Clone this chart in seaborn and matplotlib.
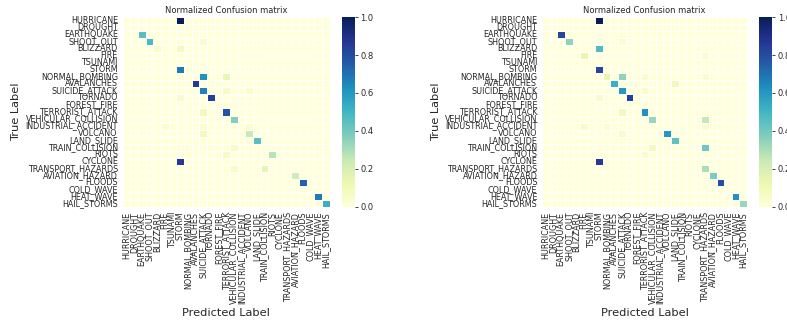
import numpy as np
import pandas as pd
import matplotlib
matplotlib.use("Agg")
import matplotlib.pyplot as plt
import seaborn as sns

classes = ["HURRICANE", "DROUGHT", "EARTHQUAKE", "SHOOT_OUT", "BLIZZARD", "FIRE",
           "TSUNAMI", "STORM", "NORMAL_BOMBING", "AVALANCHES", "SUICIDE_ATTACK",
           "TORNADO", "FOREST_FIRE", "TERRORIST_ATTACK", "VEHICULAR_COLLISION",
           "INDUSTRIAL_ACCIDENT", "VOLCANO", "LAND_SLIDE", "TRAIN_COLLISION", "RIOTS",
           "CYCLONE", "TRANSPORT_HAZARDS", "AVIATION_HAZARD", "FLOODS", "COLD_WAVE",
           "HEAT_WAVE", "HAIL_STORMS"]

# left matrix: non-zero cells (true row, predicted col, value)
left_rows = [0, 2, 3, 3, 4, 4, 7, 8, 8, 9, 10, 10, 10, 11, 11, 13, 13, 14,
             15, 15, 15, 16, 16, 17, 18, 19, 19, 20, 21, 21, 22, 23, 25, 26]
left_cols = [7, 2, 3, 10, 4, 7, 7, 10, 13, 9, 10, 13, 16, 11, 7, 13, 10, 14,
             5, 10, 16, 10, 16, 17, 14, 13, 19, 7, 14, 18, 22, 23, 25, 26]
left_vals = [1.0, 0.45, 0.48, 0.04, 0.05, 0.08, 0.68, 0.62, 0.14, 0.86, 0.66, 0.06, 0.04,
             0.84, 0.05, 0.78, 0.10, 0.37, 0.04, 0.03, 0.04, 0.10, 0.24, 0.45, 0.06,
             0.06, 0.28, 0.86, 0.06, 0.15, 0.22, 0.74, 0.68, 0.52]

# right matrix: non-zero cells (true row, predicted col, value)
right_rows = [0, 2, 3, 3, 4, 5, 5, 7, 8, 8, 8, 8, 9, 9, 10, 10, 11, 11, 13, 13,
              14, 14, 15, 15, 15, 16, 16, 17, 18, 18, 19, 20, 21, 22, 23, 25, 26]
right_cols = [7, 2, 3, 10, 7, 5, 21, 7, 8, 10, 13, 21, 9, 17, 10, 13, 11, 7, 10, 13,
              14, 21, 5, 8, 21, 10, 16, 17, 14, 21, 13, 7, 21, 22, 23, 25, 26]
right_vals = [1.0, 0.82, 0.35, 0.03, 0.47, 0.14, 0.03, 0.82, 0.14, 0.35, 0.04, 0.03,
              0.52, 0.10, 0.60, 0.05, 0.84, 0.05, 0.10, 0.62, 0.33, 0.25, 0.05, 0.03,
              0.04, 0.05, 0.60, 0.44, 0.08, 0.40, 0.04, 0.86, 0.30, 0.38, 0.80, 0.62, 0.33]


def build(rows, cols, vals):
    m = np.zeros((len(classes), len(classes)))
    for r, c, v in zip(rows, cols, vals):
        m[r, c] = v
    return pd.DataFrame(m, index=classes, columns=classes)


sns.set_style("white")
plt.rcParams["font.family"] = ["DejaVu Sans"]
txt = "#262626"
plt.rcParams["text.color"] = txt
plt.rcParams["axes.labelcolor"] = txt
plt.rcParams["xtick.color"] = txt
plt.rcParams["ytick.color"] = txt

fig = plt.figure(figsize=(7.87, 3.27), dpi=100)
panels = [
    (build(left_rows, left_cols, left_vals), [0.156, 0.367, 0.263, 0.581], [0.435, 0.367, 0.016, 0.581]),
    (build(right_rows, right_cols, right_vals), [0.689, 0.367, 0.260, 0.581], [0.965, 0.367, 0.016, 0.581]),
]

for df, axpos, cpos in panels:
    ax = fig.add_axes(axpos)
    cax = fig.add_axes(cpos)
    sns.heatmap(df, ax=ax, cbar_ax=cax, cmap="YlGnBu", vmin=0, vmax=1,
                linewidths=0.5, linecolor="white", square=False,
                xticklabels=True, yticklabels=True)
    ax.set_title("Normalized Confusion matrix", fontsize=6, pad=3)
    ax.set_xlabel("Predicted Label", fontsize=8.2, labelpad=3)
    ax.set_ylabel("True Label", fontsize=8.2, labelpad=3)
    ax.tick_params(axis="both", length=0, pad=3.5)
    ax.set_xticklabels(classes, rotation=90, fontsize=5.8)
    ax.set_yticklabels(classes, rotation=0, fontsize=5.8)
    cax.tick_params(labelsize=6, length=2.5, width=0.6, pad=1.5)
    cax.set_yticks([0, 0.2, 0.4, 0.6, 0.8, 1.0])
    for s in cax.spines.values():
        s.set_visible(False)

fig.savefig("out.png", dpi=100)
